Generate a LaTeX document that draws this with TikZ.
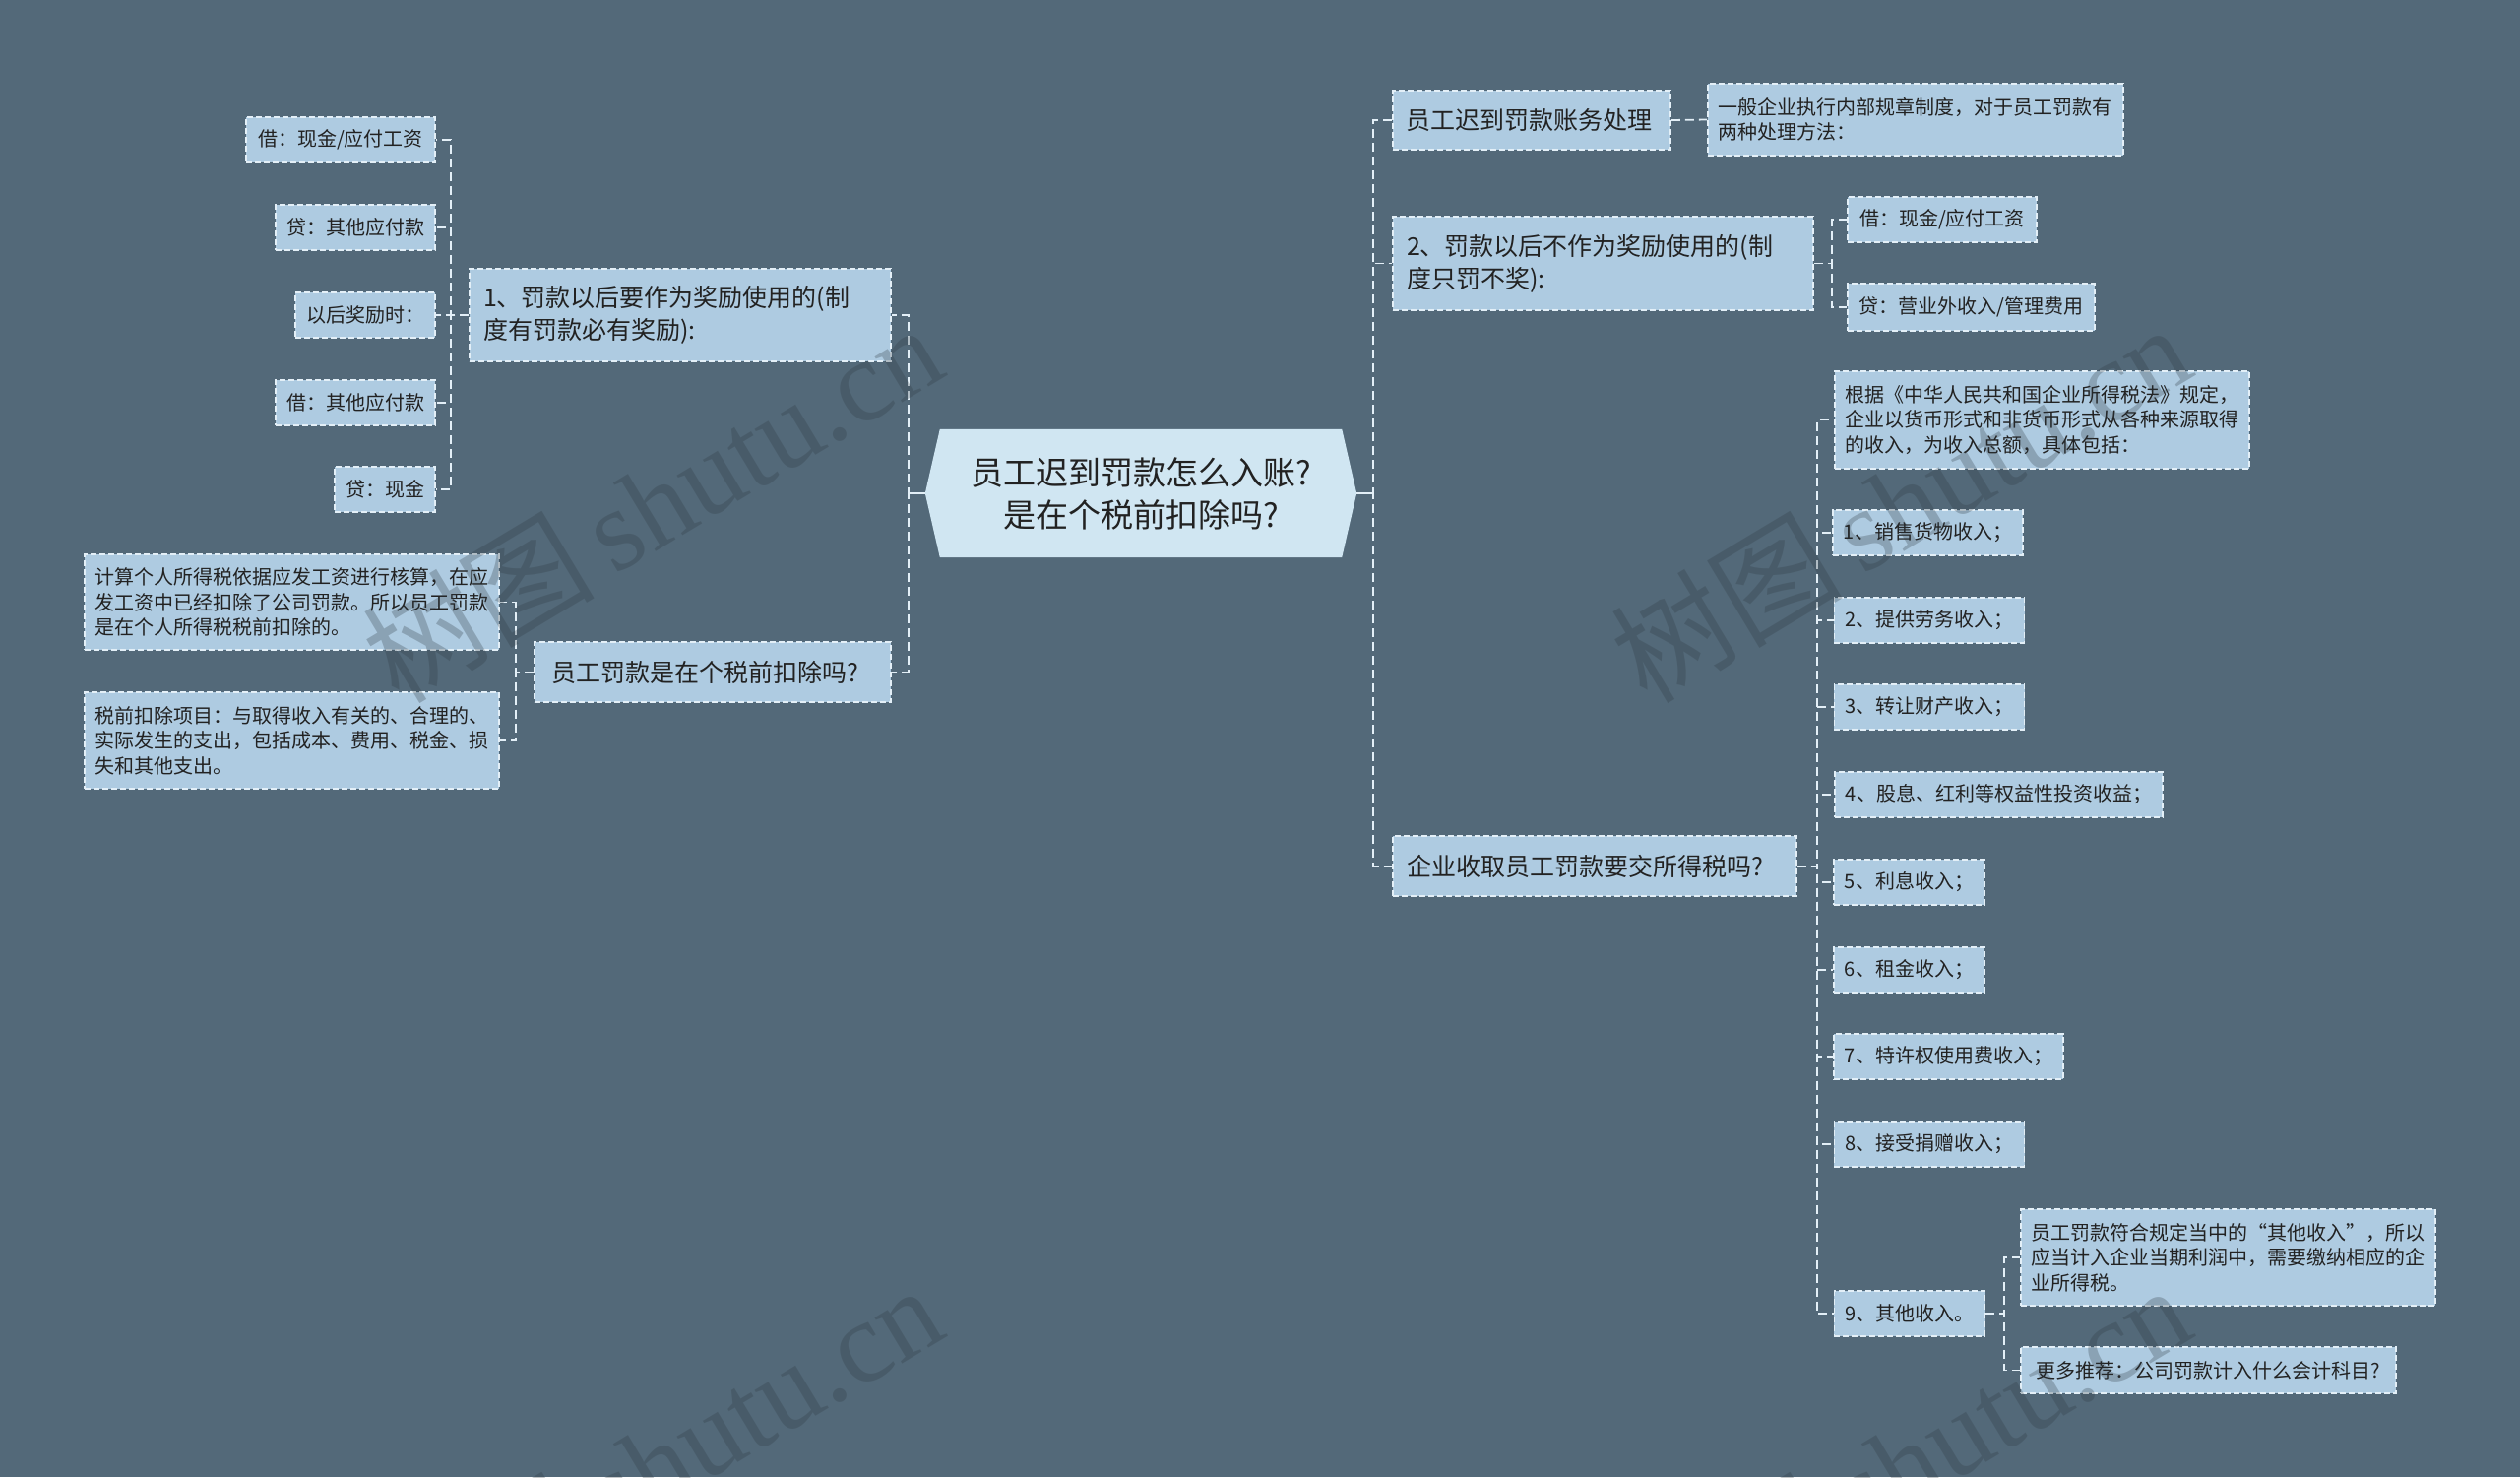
\documentclass[tikz,border=0pt]{standalone}
\usepackage{fontspec}
\setmainfont{Noto Sans CJK SC}
\newfontfamily\wmserif{Liberation Serif}
\usetikzlibrary{backgrounds}
\definecolor{bgc}{HTML}{536979}
\definecolor{boxc}{HTML}{AECBE1}
\definecolor{rootc}{HTML}{D0E6F2}
\definecolor{edgec}{HTML}{E3EFF7}
\definecolor{connc}{HTML}{E3EFF7}
\definecolor{txt}{HTML}{222222}
\definecolor{wmc}{HTML}{2F3A42}
\begin{document}
\begin{tikzpicture}[x=1pt,y=-1pt,
  box/.style={draw=edgec, dash pattern=on 6pt off 3pt, line width=1.6pt, fill=boxc, text=txt, inner xsep=11pt, inner ysep=3pt, align=left},
  sbox/.style={box, font=\fontsize{20}{25.5}\selectfont},
  pbox/.style={sbox, inner xsep=10pt, text width=401pt},
  mbox/.style={box, font=\fontsize{25}{33}\selectfont, inner xsep=14pt},
  conn/.style={draw=connc, line width=1.8pt, dash pattern=on 9pt off 5pt},
  wm/.style={text=wmc, opacity=0.28, rotate=31, inner sep=0pt}
]
\useasboundingbox (0,0) rectangle (2560,1500);

% root
\node (root) at (1159,501) [minimum width=438, minimum height=130, align=center, font=\fontsize{33}{43}\selectfont, text=txt, inner sep=0pt] {员工迟到罚款怎么入账?\\是在个税前扣除吗?};

% left side
\node (L1a) at (691,320) [mbox, text width=400pt, minimum height=94] {1、罚款以后要作为奖励使用的(制\\度有罚款必有奖励):};
\node (L1b) at (724,682.5) [mbox, inner xsep=17pt, text width=328pt, minimum height=61] {员工罚款是在个税前扣除吗?};

\node (a1) at (346,142) [sbox, minimum width=192, minimum height=46] {借：现金/应付工资};
\node (a2) at (361,231) [sbox, minimum width=162, minimum height=46] {贷：其他应付款};
\node (a3) at (371,320) [sbox, minimum width=142, minimum height=46] {以后奖励时：};
\node (a4) at (361,409) [sbox, minimum width=162, minimum height=46] {借：其他应付款};
\node (a5) at (391,497) [sbox, minimum width=102, minimum height=46] {贷：现金};

\node (b1) at (296.5,611.5) [pbox, minimum height=97] {计算个人所得税依据应发工资进行核算，在应\\发工资中已经扣除了公司罚款。所以员工罚款\\是在个人所得税税前扣除的。};
\node (b2) at (296.5,752) [pbox, minimum height=98] {税前扣除项目：与取得收入有关的、合理的、\\实际发生的支出，包括成本、费用、税金、损\\失和其他支出。};

% right side
\node (R1) at (1556,122) [mbox, inner xsep=13pt, text width=256pt, minimum height=60] {员工迟到罚款账务处理};
\node (R1c) at (1946,121.5) [sbox, inner xsep=10pt, text width=402pt, minimum height=73] {一般企业执行内部规章制度，对于员工罚款有\\两种处理方法：};
\node (R2) at (1628.5,267.5) [mbox, text width=399pt, minimum height=95] {2、罚款以后不作为奖励使用的(制\\度只罚不奖):};
\node (R2a) at (1973,223) [sbox, minimum width=192, minimum height=46] {借：现金/应付工资};
\node (R2b) at (2002.5,312) [sbox, minimum width=251, minimum height=48] {贷：营业外收入/管理费用};
\node (R3) at (1620,879.5) [mbox, text width=382pt, minimum height=61] {企业收取员工罚款要交所得税吗?};

\node (c0) at (2074.5,426.5) [pbox, minimum height=99] {根据《中华人民共和国企业所得税法》规定，\\企业以货币形式和非货币形式从各种来源取得\\的收入，为收入总额，具体包括：};
\node (c1) at (1958.5,541) [sbox, minimum width=189, minimum height=46] {1、销售货物收入；};
\node (c2) at (1960,630) [sbox, minimum width=192, minimum height=46] {2、提供劳务收入；};
\node (c3) at (1960,718) [sbox, minimum width=192, minimum height=46] {3、转让财产收入；};
\node (c4) at (2030.5,807) [sbox, minimum width=333, minimum height=46] {4、股息、红利等权益性投资收益；};
\node (c5) at (1939.5,896) [sbox, minimum width=151, minimum height=46] {5、利息收入；};
\node (c6) at (1939.5,985) [sbox, minimum width=151, minimum height=46] {6、租金收入；};
\node (c7) at (1979.5,1073) [sbox, minimum width=231, minimum height=46] {7、特许权使用费收入；};
\node (c8) at (1960,1162) [sbox, minimum width=192, minimum height=46] {8、接受捐赠收入；};
\node (c9) at (1940,1334) [sbox, minimum width=152, minimum height=46] {9、其他收入。};
\node (d1) at (2263.5,1277) [pbox, minimum height=98] {员工罚款符合规定当中的“其他收入”，所以\\应当计入企业当期利润中，需要缴纳相应的企\\业所得税。};
\node (d2) at (2243.5,1391.5) [sbox, minimum width=381, minimum height=47] {更多推荐：公司罚款计入什么会计科目?};

% connectors
\draw[conn] (root.west) -- ++(-17,0) |- (L1a.east);
\draw[conn] (root.west) -- ++(-17,0) |- (L1b.east);
\draw[draw=connc, line width=1.8pt] (root.west) -- ++(-17,0);
\foreach \n in {a1,a2,a3,a4,a5}{\draw[conn] (L1a.west) -- ++(-18,0) |- (\n.east);}
\foreach \n in {b1,b2}{\draw[conn] (L1b.west) -- ++(-18,0) |- (\n.east);}
\foreach \n in {R1,R2,R3}{\draw[conn] (root.east) -- ++(17,0) |- (\n.west);}
\draw[draw=connc, line width=1.8pt] (root.east) -- ++(17,0);
\draw[conn] (R1.east) -- (R1c.west);
\foreach \n in {R2a,R2b}{\draw[conn] (R2.east) -- ++(18,0) |- (\n.west);}
\foreach \n in {c0,c1,c2,c3,c4,c5,c6,c7,c8,c9}{\draw[conn] (R3.east) -- ++(20,0) |- (\n.west);}
\foreach \n in {d1,d2}{\draw[conn] (c9.east) -- ++(19,0) |- (\n.west);}

\begin{scope}[on background layer]
  \fill[bgc] (0,0) rectangle (2560,1500);
  \fill[rootc] (root.west) -- ([xshift=15pt]root.north west) -- ([xshift=-15pt]root.north east) -- (root.east) -- ([xshift=-15pt]root.south east) -- ([xshift=15pt]root.south west) -- cycle;
\end{scope}

% watermarks
\begin{scope}
  \clip (0,0) rectangle (2560,1500);
  \node (w1) [wm] at (662,510) {\fontsize{118}{118}\selectfont 树图\,\wmserif shutu.cn};
  \node (w2) [wm] at (1930,510) {\fontsize{118}{118}\selectfont 树图\,\wmserif shutu.cn};
  \node (w3) [wm] at (662,1486) {\fontsize{118}{118}\selectfont 树图\,\wmserif shutu.cn};
  \node (w4) [wm] at (1930,1486) {\fontsize{118}{118}\selectfont 树图\,\wmserif shutu.cn};
\end{scope}
\end{tikzpicture}
\end{document}
